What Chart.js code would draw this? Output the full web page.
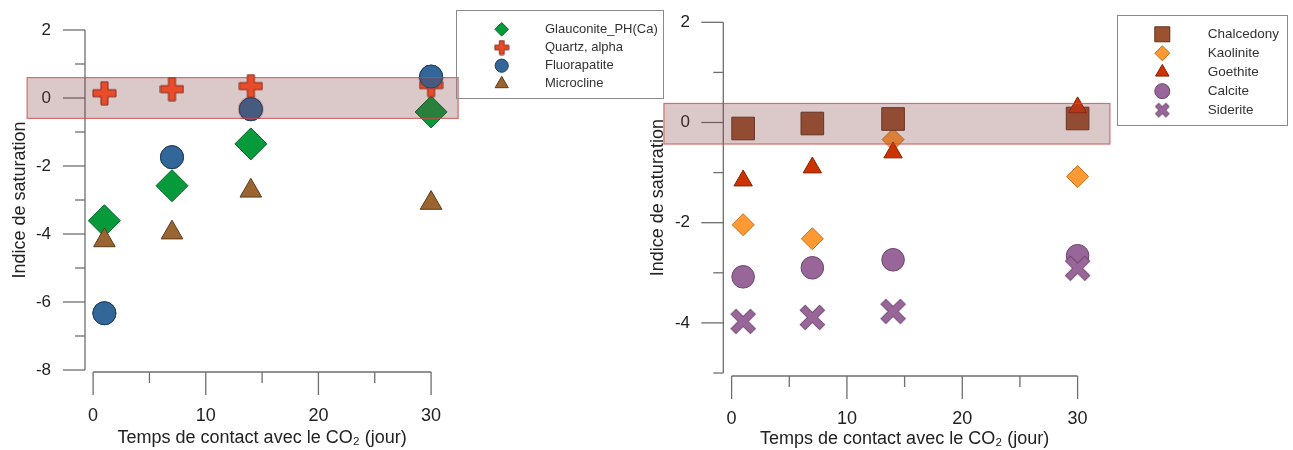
<!DOCTYPE html>
<html><head><meta charset="utf-8">
<script src="https://cdn.jsdelivr.net/npm/chart.js@4.4.0/dist/chart.umd.min.js"></script>
<style>
html,body{margin:0;padding:0;background:#fff;width:1293px;height:450px;overflow:hidden;}
#left{position:absolute;left:0;top:0;}
#right{position:absolute;left:630px;top:0;}
</style></head><body>
<canvas id="left" width="670" height="450"></canvas>
<canvas id="right" width="663" height="450"></canvas>
<script>
// ---------- DATA ----------
const days = [1, 7, 14, 30];
// left panel
const glauconite   = [-3.61, -2.58, -1.35, -0.41];
const quartz       = [0.14, 0.26, 0.35, 0.38];
const fluorapatite = [-6.33, -1.74, -0.33, 0.63];
const microcline   = [-4.19, -3.96, -2.73, -3.09];
// right panel
const chalcedony = [-0.12, -0.02, 0.07, 0.08];
const kaolinite  = [-2.04, -2.32, -0.34, -1.08];
const goethite   = [-1.16, -0.90, -0.60, 0.30];
const calcite    = [-3.08, -2.90, -2.74, -2.66];
const siderite   = [-3.97, -3.89, -3.77, -2.91];
// ticks
const xTickValues = [0, 5, 10, 15, 20, 25, 30];
const xTickLabels = [0, 10, 20, 30];
const yTickValuesLeft = [-8, -7, -6, -5, -4, -3, -2, -1, 0, 1, 2];
const yTickLabelsLeft = [2, 0, -2, -4, -6, -8];
const yTickValuesRight = [-5, -4, -3, -2, -1, 0, 1, 2];
const yTickLabelsRight = [2, 0, -2, -4];
// equilibrium band (saturation index range) and its day extent
const bandLeftSI = [-0.6, 0.6];
const bandLeftDays = [-5.86, 32.4];
const bandRightSI = [-0.43, 0.38];
const bandRightDays = [-5.87, 32.8];

const FONT = "'Liberation Sans', Arial, sans-serif";
const xTitle = 'Temps de contact avec le CO\u2082 (jour)';
const yTitle = 'Indice de saturation';

// ---------- custom marker images ----------
function makePlus(size, thick, fill, stroke) {
  const s = Math.ceil(size + 2);
  const c = document.createElement('canvas'); c.width = s; c.height = s;
  const g = c.getContext('2d');
  const m = s / 2, h = size / 2, t = thick / 2;
  g.beginPath();
  g.moveTo(m - t, m - h); g.lineTo(m + t, m - h); g.lineTo(m + t, m - t); g.lineTo(m + h, m - t);
  g.lineTo(m + h, m + t); g.lineTo(m + t, m + t); g.lineTo(m + t, m + h); g.lineTo(m - t, m + h);
  g.lineTo(m - t, m + t); g.lineTo(m - h, m + t); g.lineTo(m - h, m - t); g.lineTo(m - t, m - t);
  g.closePath();
  g.fillStyle = fill; g.fill(); g.lineWidth = 1; g.strokeStyle = stroke; g.stroke();
  return c;
}
function makeX(half, thick, fill, stroke) {
  const s = Math.ceil(2 * half + thick + 3);
  const c = document.createElement('canvas'); c.width = s; c.height = s;
  const g = c.getContext('2d');
  const m = s / 2;
  const line = (a, w, col) => {
    g.strokeStyle = col; g.lineWidth = w; g.lineCap = 'butt';
    g.beginPath(); g.moveTo(m - a, m - a); g.lineTo(m + a, m + a); g.stroke();
    g.beginPath(); g.moveTo(m - a, m + a); g.lineTo(m + a, m - a); g.stroke();
  };
  line(half + 0.5, thick + 1.4, stroke);
  line(half, thick, fill);
  return c;
}

const C = {
  glau: ['#079a3b', '#04652a'],
  quartz: ['#e84c2a', '#8a2914'],
  fluor: ['#336699', '#1e3f60'],
  micro: ['#9a6530', '#5a3b1c'],
  chal: ['#9b5230', '#5e321c'],
  kao: ['#ff9933', '#c4701f'],
  goe: ['#cc3300', '#8a2200'],
  cal: ['#996699', '#6a466a'],
  sid: ['#996699', '#5e3c5e']
};

const plusBig = makePlus(23, 7, C.quartz[0], C.quartz[1]);
const plusSmall = makePlus(14, 4.5, C.quartz[0], C.quartz[1]);
const xBig = makeX(9.5, 6.5, C.sid[0], C.sid[1]);
const xSmall = makeX(5, 4, C.sid[0], C.sid[1]);

// ---------- helpers ----------
function drawMarker(ctx, style, x, y, r, fill, stroke) {
  ctx.save();
  if (style instanceof HTMLCanvasElement) {
    ctx.drawImage(style, x - style.width / 2, y - style.height / 2);
    ctx.restore(); return;
  }
  ctx.beginPath();
  if (style === 'circle') {
    ctx.arc(x, y, r, 0, Math.PI * 2);
  } else if (style === 'rectRot') {
    ctx.moveTo(x - r, y); ctx.lineTo(x, y - r); ctx.lineTo(x + r, y); ctx.lineTo(x, y + r);
  } else if (style === 'rect') {
    const s = Math.SQRT1_2 * r; ctx.rect(x - s, y - s, 2 * s, 2 * s);
  } else if (style === 'triangle') {
    let a = 0;
    ctx.moveTo(x + Math.sin(a) * r, y - Math.cos(a) * r);
    a += Math.PI * 2 / 3; ctx.lineTo(x + Math.sin(a) * r, y - Math.cos(a) * r);
    a += Math.PI * 2 / 3; ctx.lineTo(x + Math.sin(a) * r, y - Math.cos(a) * r);
  }
  ctx.closePath();
  ctx.fillStyle = fill; ctx.fill();
  ctx.lineWidth = 1; ctx.strokeStyle = stroke; ctx.stroke();
  ctx.restore();
}

function ds(label, values, style, radius, col, order) {
  return {
    label,
    data: days.map((d, i) => ({ x: d, y: values[i] })),
    pointStyle: style,
    pointRadius: radius,
    pointHoverRadius: radius,
    backgroundColor: col[0],
    borderColor: col[1],
    pointBorderWidth: 1,
    showLine: false,
    order,
    clip: false
  };
}

// ---------- plugins ----------
const axesPlugin = {
  id: 'detachedAxes',
  beforeDatasetsDraw(chart, args, o) {
    const ctx = chart.ctx, xs = chart.scales.x, ys = chart.scales.y, a = chart.chartArea;
    ctx.save();
    ctx.strokeStyle = o.color; ctx.lineWidth = 1.3;
    const yt = ys.ticks.map(t => t.value);
    const yTop = ys.getPixelForValue(Math.max(...yt)), yBot = ys.getPixelForValue(Math.min(...yt));
    ctx.beginPath(); ctx.moveTo(a.left, yTop); ctx.lineTo(a.left, yBot); ctx.stroke();
    yt.forEach(v => {
      const p = ys.getPixelForValue(v), len = v % 2 === 0 ? o.yMajor : o.yMinor;
      ctx.beginPath(); ctx.moveTo(a.left - len, p); ctx.lineTo(a.left, p); ctx.stroke();
    });
    const xt = xs.ticks.map(t => t.value);
    const xl = xs.getPixelForValue(Math.min(...xt)), xr = xs.getPixelForValue(Math.max(...xt));
    const yl = a.bottom + o.xOffset;
    ctx.beginPath(); ctx.moveTo(xl, yl); ctx.lineTo(xr, yl); ctx.stroke();
    xt.forEach(v => {
      const p = xs.getPixelForValue(v), len = v % 10 === 0 ? o.xMajor : o.xMinor;
      ctx.beginPath(); ctx.moveTo(p, yl); ctx.lineTo(p, yl + len); ctx.stroke();
    });
    ctx.restore();
  }
};

function drawBand(chart, o) {
  const ctx = chart.ctx, xs = chart.scales.x, ys = chart.scales.y;
  const x0 = xs.getPixelForValue(o.days[0]), x1 = xs.getPixelForValue(o.days[1]);
  const y0 = ys.getPixelForValue(o.si[1]), y1 = ys.getPixelForValue(o.si[0]);
  ctx.save();
  ctx.fillStyle = 'rgba(125,60,66,0.28)';
  ctx.fillRect(x0, y0, x1 - x0, y1 - y0);
  ctx.strokeStyle = 'rgba(205,70,70,0.75)'; ctx.lineWidth = 1.2;
  ctx.strokeRect(x0, y0, x1 - x0, y1 - y0);
  ctx.restore();
}
const bandPlugin = {
  id: 'band',
  beforeDatasetDraw(chart, args, o) {
    if (o.before !== null && args.index === o.before) drawBand(chart, o);
  },
  afterDatasetDraw(chart, args, o) {
    // markers that sit above the preceding set are redrawn (still under the band tint)
    if (o.before !== null && args.index === o.before && o.redraw !== null) {
      const ctx = chart.ctx;
      chart.getDatasetMeta(o.redraw).data.forEach(el => {
        const r = el.options.radius + 1.5;
        ctx.save();
        ctx.beginPath(); ctx.arc(el.x, el.y, r, 0, Math.PI * 2); ctx.clip();
        el.draw(ctx);
        drawBand(chart, o);
        ctx.restore();
      });
    }
  },
  afterDatasetsDraw(chart, args, o) {
    if (o.before === null) drawBand(chart, o);
  }
};

const boxLegend = {
  id: 'boxLegend',
  afterDraw(chart, args, o) {
    const ctx = chart.ctx;
    ctx.save();
    ctx.strokeStyle = '#8a8a8a'; ctx.lineWidth = 1;
    ctx.strokeRect(o.box[0] + 0.5, o.box[1] + 0.5, o.box[2] - o.box[0], o.box[3] - o.box[1]);
    ctx.font = o.fontSize + 'px ' + FONT;
    ctx.textBaseline = 'middle'; ctx.textAlign = 'left';
    chart.data.datasets.forEach((d, i) => {
      const y = o.row0 + i * o.gap;
      const m = o.markers[i];
      drawMarker(ctx, m[0], o.mx, y, m[1], d.backgroundColor, d.borderColor);
      ctx.fillStyle = '#333';
      ctx.fillText(d.label, o.tx, y);
    });
    ctx.restore();
  }
};

function makeChart(id, datasets, cfg) {
  return new Chart(document.getElementById(id), {
    type: 'scatter',
    data: { datasets },
    plugins: [axesPlugin, bandPlugin, boxLegend],
    options: {
      responsive: false,
      animation: false,
      devicePixelRatio: 1,
      events: [],
      layout: { padding: cfg.padding },
      scales: {
        x: {
          type: 'linear', min: -0.72, max: 30.72,
          afterBuildTicks: s => { s.ticks = xTickValues.map(v => ({ value: v })); },
          afterFit: s => { s.height = cfg.xHeight; s.paddingLeft = 0; s.paddingRight = 0; },
          grid: { display: false, drawTicks: false },
          border: { display: false },
          ticks: {
            autoSkip: false, maxRotation: 0, padding: cfg.xTickPad,
            color: '#222', font: { family: FONT, size: 18 },
            callback: v => xTickLabels.includes(v) ? String(v) : ''
          },
          title: {
            display: true, text: xTitle, color: '#222',
            font: { family: FONT, size: 18 }, padding: { top: 0, bottom: cfg.xTitlePad }
          }
        },
        y: {
          type: 'linear', min: cfg.yMin, max: cfg.yMax,
          afterBuildTicks: s => { s.ticks = cfg.yTicks.map(v => ({ value: v })); },
          afterFit: s => { s.width = cfg.yWidth; s.paddingTop = 0; s.paddingBottom = 0; },
          grid: { display: false, drawTicks: false },
          border: { display: false },
          ticks: {
            autoSkip: false, padding: cfg.yTickPad,
            color: '#222', font: { family: FONT, size: 17 },
            callback: v => cfg.yLabels.includes(v) ? String(v) : ''
          },
          title: {
            display: true, text: yTitle, color: '#222',
            font: { family: FONT, size: 18 }, padding: { top: cfg.yTitlePad, bottom: 0 }
          }
        }
      },
      plugins: {
        legend: { display: false },
        tooltip: { enabled: false },
        detachedAxes: { color: '#6e6e6e', yMajor: 22, yMinor: 10, xMajor: 23, xMinor: 11, xOffset: cfg.xOffset },
        band: { si: cfg.bandSI, days: cfg.bandDays, before: cfg.bandBefore, redraw: cfg.redraw },
        boxLegend: cfg.legend
      }
    }
  });
}

makeChart('left', [
  ds('Glauconite_PH(Ca)', glauconite, 'rectRot', 16, C.glau, 4),
  ds('Quartz, alpha', quartz, plusBig, 12, C.quartz, 2),
  ds('Fluorapatite', fluorapatite, 'circle', 11.5, C.fluor, 3),
  ds('Microcline', microcline, 'triangle', 12.5, C.micro, 1)
], {
  padding: { top: 30, left: 0, right: 230.8, bottom: 0 },
  xHeight: 80, yWidth: 85, xTickPad: 35, yTickPad: 34, xTitlePad: 1, yTitlePad: 9.2,
  yMin: -8, yMax: 2, yTicks: yTickValuesLeft, yLabels: yTickLabelsLeft, xOffset: 2,
  bandSI: bandLeftSI, bandDays: bandLeftDays, bandBefore: 1, redraw: 2,
  legend: {
    box: [456, 10, 663, 98], mx: 501.7, tx: 545, row0: 29.3, gap: 18.2, fontSize: 13,
    markers: [['rectRot', 6.8], [plusSmall, 6], ['circle', 6.6], ['triangle', 7.6]]
  }
});

makeChart('right', [
  ds('Chalcedony', chalcedony, 'rect', 16, C.chal, 4),
  ds('Kaolinite', kaolinite, 'rectRot', 11, C.kao, 5),
  ds('Goethite', goethite, 'triangle', 10.6, C.goe, 3),
  ds('Calcite', calcite, 'circle', 11.3, C.cal, 2),
  ds('Siderite', siderite, xBig, 12, C.sid, 1)
], {
  padding: { top: 22.3, left: 0, right: 207.1, bottom: 0 },
  xHeight: 77, yWidth: 93.3, xTickPad: 35.7, yTickPad: 33.3, xTitlePad: 0, yTitlePad: 17.5,
  yMin: -5, yMax: 2, yTicks: yTickValuesRight, yLabels: yTickLabelsRight, xOffset: 3,
  bandSI: bandRightSI, bandDays: bandRightDays, bandBefore: null, redraw: null,
  legend: {
    box: [487, 15, 657, 125], mx: 532.3, tx: 577.7, row0: 34.3, gap: 18.95, fontSize: 13.5,
    markers: [['rect', 10.6], ['rectRot', 7.5], ['triangle', 7.8], ['circle', 7.5], [xSmall, 6]]
  }
});
</script>
</body></html>
